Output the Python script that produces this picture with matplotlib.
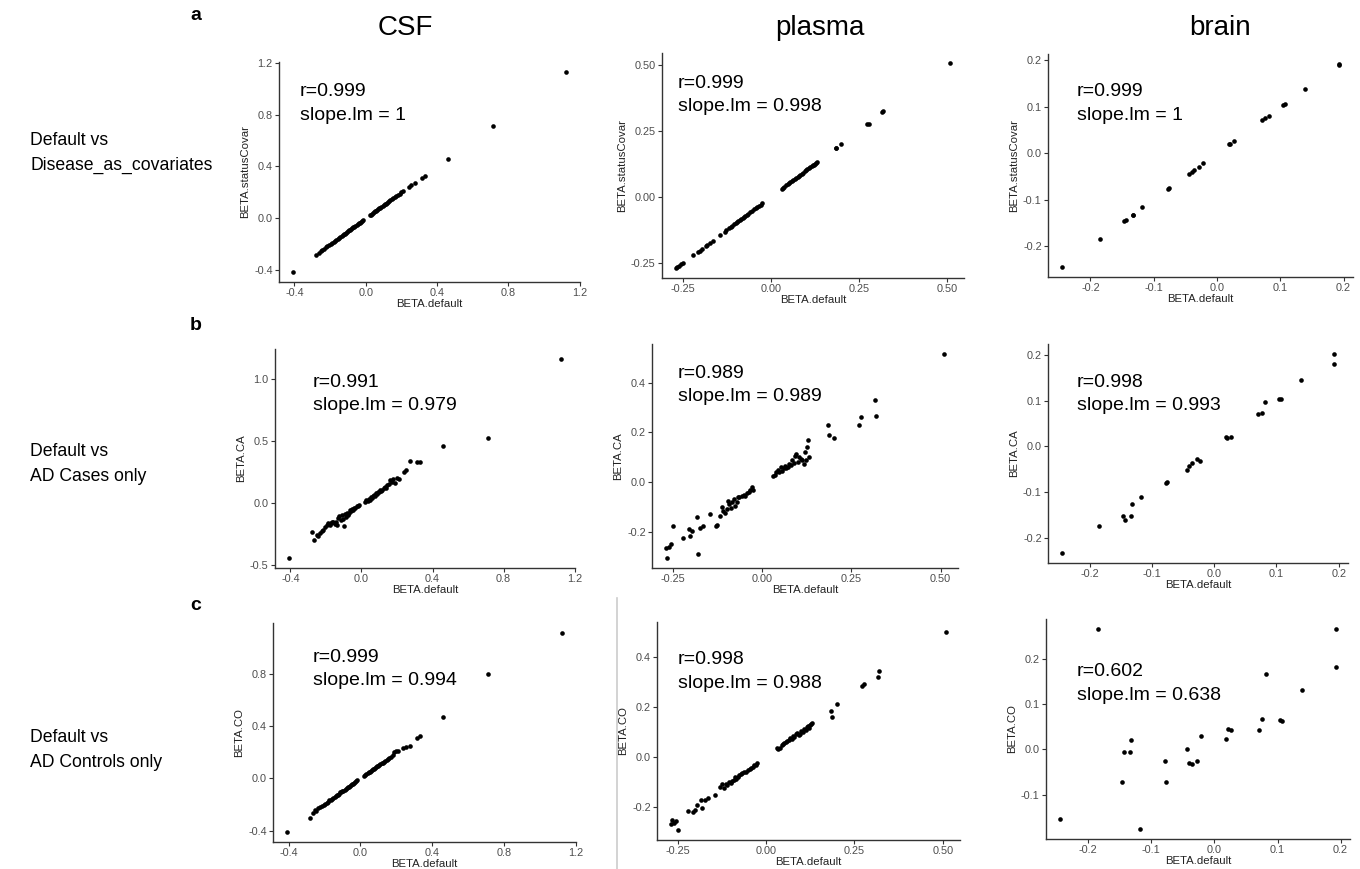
import matplotlib
matplotlib.use("Agg")
import matplotlib.pyplot as plt
from matplotlib.ticker import FixedLocator, FormatStrFormatter
from matplotlib.lines import Line2D

plt.rcParams['font.family'] = ['Liberation Sans', 'DejaVu Sans']
plt.rcParams['axes.unicode_minus'] = False

# ---------------- data ----------------
columns = ["CSF", "plasma", "brain"]
row_letters = ["a", "b", "c"]
row_labels = ["Default vs\nDisease_as_covariates", "Default vs\nAD Cases only", "Default vs\nAD Controls only"]
y_titles = ["BETA.statusCovar", "BETA.CA", "BETA.CO"]
x_title = "BETA.default"

r_values = [["0.999", "0.999", "0.999"],
            ["0.991", "0.989", "0.998"],
            ["0.999", "0.998", "0.602"]]
slope_values = [["1", "0.998", "1"],
                ["0.979", "0.989", "0.993"],
                ["0.994", "0.988", "0.638"]]

csf_x = [-0.410, -0.280, -0.265, -0.252, -0.245, -0.235, -0.225, -0.215, -0.205, -0.196,
         -0.188, -0.180, -0.172, -0.165, -0.158, -0.150, -0.143, -0.136, -0.130, -0.124,
         -0.118, -0.112, -0.106, -0.100, -0.094, -0.088, -0.082, -0.076, -0.070, -0.064,
         -0.058, -0.052, -0.046, -0.040, -0.034, -0.028, -0.022, -0.016, 0.022, 0.028,
         0.034, 0.040, 0.046, 0.052, 0.058, 0.064, 0.070, 0.076, 0.082, 0.088,
         0.094, 0.100, 0.106, 0.112, 0.118, 0.124, 0.130, 0.138, 0.146, 0.154,
         0.162, 0.170, 0.180, 0.190, 0.200, 0.210, 0.240, 0.253, 0.275, 0.315,
         0.330, 0.460, 0.712, 1.125]
csf_y_covar = [-0.415, -0.282, -0.266, -0.252, -0.246, -0.236, -0.225, -0.214, -0.205, -0.196,
               -0.188, -0.181, -0.172, -0.165, -0.158, -0.151, -0.143, -0.136, -0.130, -0.124,
               -0.118, -0.112, -0.106, -0.100, -0.094, -0.088, -0.082, -0.076, -0.070, -0.064,
               -0.058, -0.052, -0.046, -0.040, -0.034, -0.028, -0.022, -0.016, 0.022, 0.028,
               0.034, 0.040, 0.046, 0.052, 0.058, 0.064, 0.070, 0.076, 0.082, 0.088,
               0.094, 0.100, 0.106, 0.112, 0.118, 0.124, 0.130, 0.138, 0.146, 0.154,
               0.162, 0.170, 0.180, 0.190, 0.200, 0.210, 0.240, 0.253, 0.272, 0.312,
               0.328, 0.458, 0.712, 1.128]
csf_y_ca = [-0.440, -0.230, -0.297, -0.255, -0.265, -0.235, -0.225, -0.215, -0.190, -0.170,
            -0.155, -0.175, -0.160, -0.150, -0.153, -0.165, -0.150, -0.171, -0.120, -0.105,
            -0.135, -0.095, -0.125, -0.179, -0.085, -0.110, -0.075, -0.091, -0.080, -0.055,
            -0.064, -0.045, -0.050, -0.035, -0.040, -0.024, -0.018, -0.011, 0.010, 0.025,
            0.016, 0.035, 0.030, 0.050, 0.045, 0.056, 0.065, 0.060, 0.083, 0.075,
            0.095, 0.090, 0.105, 0.100, 0.110, 0.125, 0.135, 0.120, 0.150, 0.160,
            0.191, 0.175, 0.200, 0.164, 0.204, 0.195, 0.250, 0.271, 0.338, 0.330,
            0.332, 0.464, 0.526, 1.163]
csf_y_co = [-0.410, -0.300, -0.265, -0.245, -0.250, -0.230, -0.220, -0.212, -0.205, -0.195,
            -0.185, -0.178, -0.168, -0.165, -0.160, -0.148, -0.140, -0.138, -0.128, -0.125,
            -0.118, -0.108, -0.107, -0.098, -0.095, -0.087, -0.082, -0.075, -0.068, -0.063,
            -0.057, -0.052, -0.045, -0.040, -0.033, -0.028, -0.022, -0.015, 0.020, 0.028,
            0.033, 0.040, 0.045, 0.050, 0.057, 0.062, 0.068, 0.075, 0.080, 0.088,
            0.092, 0.098, 0.104, 0.110, 0.116, 0.120, 0.128, 0.136, 0.142, 0.150,
            0.158, 0.165, 0.178, 0.200, 0.212, 0.210, 0.232, 0.240, 0.245, 0.306,
            0.323, 0.466, 0.795, 1.110]

plasma_x = [-0.270, -0.266, -0.262, -0.255, -0.250, -0.222, -0.206, -0.202, -0.196, -0.183,
            -0.181, -0.174, -0.165, -0.145, -0.130, -0.126, -0.118, -0.114, -0.110, -0.104,
            -0.100, -0.096, -0.092, -0.088, -0.084, -0.080, -0.076, -0.072, -0.068, -0.064,
            -0.058, -0.052, -0.047, -0.042, -0.038, -0.034, -0.029, -0.025, 0.031, 0.035,
            0.039, 0.044, 0.048, 0.052, 0.056, 0.060, 0.064, 0.068, 0.072, 0.076,
            0.080, 0.084, 0.088, 0.092, 0.096, 0.100, 0.104, 0.108, 0.112, 0.116,
            0.119, 0.122, 0.125, 0.128, 0.130, 0.184, 0.186, 0.200, 0.272, 0.278,
            0.316, 0.320, 0.510]
plasma_y_covar = [-0.268, -0.266, -0.262, -0.254, -0.250, -0.220, -0.208, -0.203, -0.196, -0.184,
                  -0.181, -0.174, -0.166, -0.146, -0.131, -0.126, -0.118, -0.114, -0.110, -0.104,
                  -0.100, -0.096, -0.092, -0.088, -0.084, -0.080, -0.076, -0.072, -0.068, -0.064,
                  -0.058, -0.052, -0.047, -0.042, -0.038, -0.034, -0.029, -0.025, 0.031, 0.035,
                  0.039, 0.044, 0.048, 0.052, 0.056, 0.060, 0.064, 0.068, 0.072, 0.076,
                  0.080, 0.084, 0.088, 0.092, 0.096, 0.100, 0.104, 0.108, 0.112, 0.116,
                  0.119, 0.122, 0.125, 0.128, 0.130, 0.185, 0.186, 0.201, 0.274, 0.277,
                  0.321, 0.323, 0.505]
plasma_y_ca = [-0.265, -0.305, -0.262, -0.249, -0.177, -0.227, -0.190, -0.217, -0.197, -0.139,
               -0.288, -0.184, -0.177, -0.130, -0.177, -0.174, -0.136, -0.100, -0.116, -0.123,
               -0.110, -0.075, -0.090, -0.105, -0.082, -0.069, -0.095, -0.082, -0.060, -0.062,
               -0.058, -0.051, -0.055, -0.042, -0.038, -0.030, -0.019, -0.030, 0.024, 0.030,
               0.039, 0.049, 0.040, 0.060, 0.046, 0.055, 0.066, 0.058, 0.060, 0.073,
               0.068, 0.087, 0.078, 0.107, 0.114, 0.080, 0.100, 0.093, 0.088, 0.073,
               0.120, 0.090, 0.141, 0.170, 0.100, 0.231, 0.191, 0.178, 0.231, 0.262,
               0.332, 0.265, 0.515]
plasma_y_co = [-0.269, -0.252, -0.262, -0.256, -0.292, -0.216, -0.220, -0.210, -0.191, -0.170,
               -0.204, -0.172, -0.165, -0.152, -0.120, -0.106, -0.125, -0.108, -0.112, -0.099,
               -0.104, -0.094, -0.090, -0.080, -0.086, -0.079, -0.072, -0.069, -0.064, -0.060,
               -0.058, -0.051, -0.047, -0.043, -0.038, -0.033, -0.030, -0.025, 0.036, 0.033,
               0.037, 0.048, 0.053, 0.055, 0.060, 0.064, 0.068, 0.076, 0.074, 0.083,
               0.080, 0.092, 0.096, 0.090, 0.092, 0.103, 0.100, 0.112, 0.106, 0.118,
               0.122, 0.116, 0.128, 0.132, 0.135, 0.185, 0.161, 0.213, 0.285, 0.290,
               0.318, 0.345, 0.500]

brain_x = [-0.245, -0.185, -0.147, -0.143, -0.133, -0.132, -0.118, -0.078, -0.076, -0.044,
           -0.040, -0.036, -0.028, -0.022, 0.019, 0.021, 0.027, 0.071, 0.076, 0.082,
           0.104, 0.107, 0.139, 0.192, 0.193]
brain_y_covar = [-0.245, -0.184, -0.147, -0.145, -0.134, -0.133, -0.117, -0.078, -0.076, -0.045,
                 -0.041, -0.037, -0.029, -0.022, 0.019, 0.020, 0.026, 0.071, 0.075, 0.081,
                 0.104, 0.106, 0.138, 0.191, 0.192]
brain_y_ca = [-0.233, -0.174, -0.153, -0.161, -0.153, -0.126, -0.111, -0.079, -0.077, -0.051,
              -0.042, -0.036, -0.028, -0.031, 0.020, 0.018, 0.021, 0.071, 0.073, 0.097,
              0.104, 0.103, 0.144, 0.202, 0.181]
brain_y_co = [-0.152, 0.265, -0.071, -0.006, -0.006, 0.020, -0.175, -0.026, -0.072, 0.002,
              -0.030, -0.032, -0.025, 0.029, 0.022, 0.044, 0.043, 0.042, 0.066, 0.167,
              0.064, 0.063, 0.131, 0.264, 0.181]

x_data = [csf_x, plasma_x, brain_x]
y_data = [[csf_y_covar, plasma_y_covar, brain_y_covar],
          [csf_y_ca, plasma_y_ca, brain_y_ca],
          [csf_y_co, plasma_y_co, brain_y_co]]

x_ticks = [[-0.4, 0.0, 0.4, 0.8, 1.2], [-0.25, 0.0, 0.25, 0.5], [-0.2, -0.1, 0.0, 0.1, 0.2]]
x_fmt = ['%.1f', '%.2f', '%.1f']
y_ticks = [[[-0.4, 0.0, 0.4, 0.8, 1.2], [-0.25, 0.0, 0.25, 0.5], [-0.2, -0.1, 0.0, 0.1, 0.2]],
           [[-0.5, 0.0, 0.5, 1.0], [-0.2, 0.0, 0.2, 0.4], [-0.2, -0.1, 0.0, 0.1, 0.2]],
           [[-0.4, 0.0, 0.4, 0.8], [-0.2, 0.0, 0.2, 0.4], [-0.1, 0.0, 0.1, 0.2]]]
y_fmt = [['%.1f', '%.2f', '%.1f'], ['%.1f', '%.1f', '%.1f'], ['%.1f', '%.1f', '%.1f']]

# ---------------- layout (pixels) ----------------
W, H = 1360, 869
boxes = [[(279, 580, 62, 282), (662, 964, 53, 278), (1048, 1353, 54, 277)],
         [(275, 575, 349, 568), (652, 958, 344, 568), (1048, 1348, 344, 563)],
         [(273, 576, 623, 842), (657, 960, 622, 840), (1046, 1350, 619, 839)]]
annot_pos = [[(300, 92), (678, 83), (1077, 92)],
             [(313, 382), (678, 373), (1077, 382)],
             [(313, 657), (678, 660), (1077, 672)]]

fig = plt.figure(figsize=(W / 100, H / 100), dpi=100)

def fx(x):
    return x / W

def fy(y):
    return 1 - y / H

axis_col = '#333333'
tick_col = '#4D4D4D'

for r in range(3):
    for c in range(3):
        l, rr, t, b = boxes[r][c]
        ax = fig.add_axes([fx(l), fy(b), (rr - l) / W, (b - t) / H])
        ax.scatter(x_data[c], y_data[r][c], s=11, color='black', linewidths=0, zorder=3)
        ax.margins(0.05)
        ax.xaxis.set_major_locator(FixedLocator(x_ticks[c]))
        ax.yaxis.set_major_locator(FixedLocator(y_ticks[r][c]))
        ax.xaxis.set_major_formatter(FormatStrFormatter(x_fmt[c]))
        ax.yaxis.set_major_formatter(FormatStrFormatter(y_fmt[r][c]))
        for s in ['top', 'right']:
            ax.spines[s].set_visible(False)
        for s in ['left', 'bottom']:
            ax.spines[s].set_color(axis_col)
            ax.spines[s].set_linewidth(1.0)
        ax.tick_params(axis='both', length=3, width=0.8, color=axis_col, labelcolor=tick_col,
                       labelsize=7.8, pad=1.5)
        ax.set_xlabel(x_title, fontsize=8.2, color='#222222', labelpad=0.5)
        ax.set_ylabel(y_titles[r], fontsize=8.2, color='#222222', labelpad=3)
        ax.set_facecolor('none')
        px, py = annot_pos[r][c]
        fig.text(fx(px), fy(py), "r=" + r_values[r][c], fontsize=14, ha='left', va='center')
        fig.text(fx(px), fy(py + 23.5), "slope.lm = " + slope_values[r][c], fontsize=14,
                 ha='left', va='center')

# column titles
for c, cx in enumerate([405, 820, 1220]):
    fig.text(fx(cx), fy(28), columns[c], fontsize=20, ha='center', va='center')

# panel letters
for r, ly in enumerate([15, 325, 605]):
    fig.text(fx(190), fy(ly), row_letters[r], fontsize=14, fontweight='bold', ha='left', va='center')

# row labels
for r, ry in enumerate([153, 464, 750]):
    fig.text(fx(30), fy(ry), row_labels[r], fontsize=12.7, ha='left', va='center', linespacing=1.55)

# thin separator line
fig.add_artist(Line2D([fx(617), fx(617)], [fy(598), fy(869)], color='#cccccc', linewidth=1.2))

fig.savefig("out.png", dpi=100, facecolor='white')
